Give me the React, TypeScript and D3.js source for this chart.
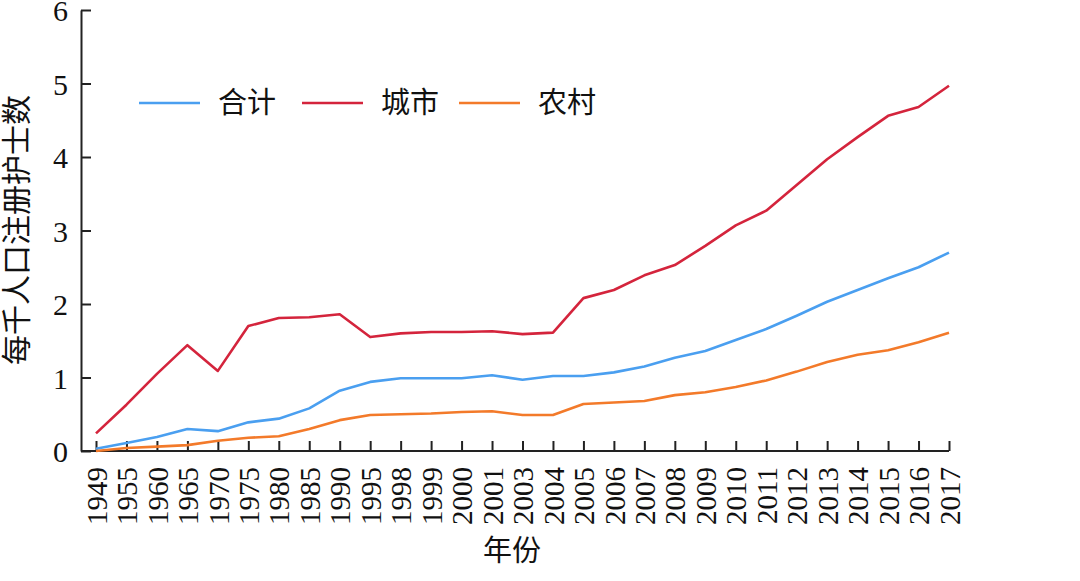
import * as React from "react";
import * as d3 from "d3";

const years = [
  "1949", "1955", "1960", "1965", "1970", "1975", "1980", "1985", "1990", "1995",
  "1998", "1999", "2000", "2001", "2003", "2004", "2005", "2006", "2007", "2008",
  "2009", "2010", "2011", "2012", "2013", "2014", "2015", "2016", "2017",
];

const total = [
  0.03, 0.11, 0.19, 0.3, 0.27, 0.39, 0.44, 0.58, 0.82, 0.94,
  0.99, 0.99, 0.99, 1.03, 0.97, 1.02, 1.02, 1.07, 1.15, 1.27,
  1.36, 1.51, 1.66, 1.84, 2.03, 2.19, 2.35, 2.5, 2.7,
];

const urban = [
  0.24, 0.63, 1.05, 1.44, 1.09, 1.7, 1.81, 1.82, 1.86, 1.55,
  1.6, 1.62, 1.62, 1.63, 1.59, 1.61, 2.08, 2.19, 2.39, 2.53,
  2.79, 3.07, 3.27, 3.62, 3.97, 4.27, 4.56, 4.68, 4.97,
];

const rural = [
  0.0, 0.04, 0.06, 0.08, 0.14, 0.18, 0.2, 0.3, 0.42, 0.49,
  0.5, 0.51, 0.53, 0.54, 0.49, 0.49, 0.64, 0.66, 0.68, 0.76,
  0.8, 0.87, 0.96, 1.08, 1.21, 1.31, 1.37, 1.48, 1.61,
];

const yTicks = [0, 1, 2, 3, 4, 5, 6];

const seriesNames = ["合计", "城市", "农村"];
const seriesColors = ["#4a9ff0", "#d4243c", "#f37a2a"];

export default function App() {
  const ref = React.useRef<SVGSVGElement>(null);

  React.useEffect(() => {
    const svg = d3.select(ref.current);
    svg.selectAll("*").remove();

    const left = 81;
    const top = 10;
    const bottom = 451;
    const xStart = 96;
    const xEnd = 949;
    const serif = "'Liberation Serif', 'Times New Roman', 'Noto Sans CJK SC', serif";

    const x = d3.scalePoint<string>().domain(years).range([xStart, xEnd]);
    const y = d3.scaleLinear().domain([0, 6]).range([bottom, top]);

    // y axis, ticks pointing inward
    const yAxis = svg
      .append("g")
      .attr("transform", `translate(${left},0)`)
      .call(
        d3.axisLeft(y).tickValues(yTicks).tickSizeInner(-10).tickSizeOuter(0).tickPadding(13).tickFormat(d3.format("d"))
      );
    yAxis.select(".domain").attr("stroke", "#222").attr("stroke-width", 2);
    yAxis.selectAll(".tick line").attr("stroke", "#222").attr("stroke-width", 2);
    yAxis
      .selectAll(".tick text")
      .attr("font-family", serif)
      .attr("font-size", 30)
      .attr("fill", "#111")
      .attr("dy", "0.36em");

    // x axis
    const xAxis = svg
      .append("g")
      .attr("transform", `translate(0,${bottom})`)
      .call(d3.axisBottom(x).tickSizeInner(-10).tickSizeOuter(0).tickPadding(0));
    xAxis.select(".domain").remove();
    xAxis.selectAll(".tick line").attr("stroke", "#222").attr("stroke-width", 2);
    xAxis
      .selectAll(".tick text")
      .attr("font-family", serif)
      .attr("font-size", 29)
      .attr("fill", "#111")
      .attr("text-anchor", "end")
      .attr("transform", "translate(0,16) rotate(-90)")
      .attr("y", 0)
      .attr("x", 0)
      .attr("dy", "0.35em");
    svg
      .append("line")
      .attr("x1", left)
      .attr("x2", xEnd)
      .attr("y1", bottom)
      .attr("y2", bottom)
      .attr("stroke", "#222")
      .attr("stroke-width", 2);

    // lines
    const all = [total, urban, rural];
    const line = d3
      .line<number>()
      .x((_, i) => x(years[i])!)
      .y((d) => y(d));
    all.forEach((vals, i) => {
      svg
        .append("path")
        .datum(vals)
        .attr("d", line)
        .attr("fill", "none")
        .attr("stroke", seriesColors[i])
        .attr("stroke-width", 2.6)
        .attr("stroke-linejoin", "round");
    });

    // legend
    const legendX = [139, 302, 459];
    const legendY = 103;
    seriesNames.forEach((name, i) => {
      svg
        .append("line")
        .attr("x1", legendX[i])
        .attr("x2", legendX[i] + 61)
        .attr("y1", legendY)
        .attr("y2", legendY)
        .attr("stroke", seriesColors[i])
        .attr("stroke-width", 2.6);
      svg
        .append("text")
        .attr("x", legendX[i] + 79)
        .attr("y", legendY + 10)
        .attr("font-family", serif)
        .attr("font-size", 29)
        .attr("fill", "#111")
        .text(name);
    });

    // axis titles
    svg
      .append("text")
      .attr("x", 512)
      .attr("y", 561)
      .attr("text-anchor", "middle")
      .attr("font-family", serif)
      .attr("font-size", 29)
      .attr("fill", "#111")
      .text("年份");
    svg
      .append("text")
      .attr("transform", "translate(27,230) rotate(-90)")
      .attr("text-anchor", "middle")
      .attr("font-family", serif)
      .attr("font-size", 30)
      .attr("fill", "#111")
      .text("每千人口注册护士数");
  }, []);

  return (
    <svg
      ref={ref}
      width={1080}
      height={581}
      style={{ position: "absolute", left: 0, top: 0, background: "#fff" }}
    />
  );
}
